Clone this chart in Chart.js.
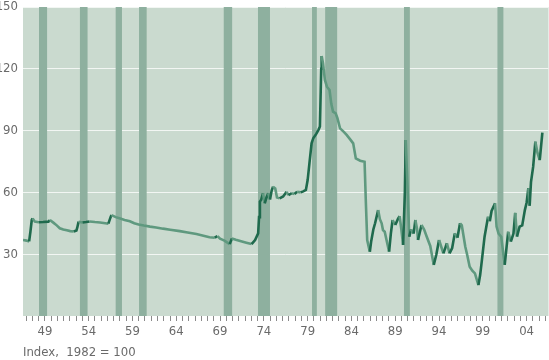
<!DOCTYPE html>
<html>
<head>
<meta charset="utf-8">
<script src="https://cdn.jsdelivr.net/npm/chart.js@4.4.1/dist/chart.umd.min.js"></script>
<style>
html,body{margin:0;padding:0;background:#fff;}
#wrap{position:relative;width:549px;height:360px;}
#note{position:absolute;left:23px;top:344px;font:13px "Liberation Sans Narrow","DejaVu Sans Condensed",sans-serif;color:#6a6a6a;white-space:pre;}
</style>
</head>
<body>
<div id="wrap">
<canvas id="c" width="549" height="360"></canvas>
<div id="note">Index,  1982 = 100</div>
</div>
<script>
// Decimal-year time stamps and index values
const times = [
1947.0,1947.4,1947.7,1947.85,1948.0,1948.1,1948.35,1948.8,1949.3,1949.9,
1950.07,1950.5,1950.85,1951.2,1951.6,1952.0,1952.4,1952.8,1953.1,1953.2,
1953.35,1953.8,1954.2,1954.6,1955.2,1955.8,1956.4,1956.75,1957.0,1957.1,
1957.6,1958.1,1958.6,1959.2,1959.7,1960.2,1960.8,1961.5,1962.2,1963.0,
1963.8,1964.9,1965.8,1966.8,1967.6,1968.3,1968.9,1969.2,1969.5,1970.0,
1970.6,1970.85,1971.3,1971.8,1972.5,1973.1,1973.5,1973.85,1973.95,1974.05,
1974.2,1974.4,1974.6,1974.8,1975.0,1975.2,1975.4,1975.55,1975.8,1976.0,
1976.3,1976.7,1977.1,1977.3,1977.7,1978.0,1978.3,1978.7,1979.0,1979.3,
1979.5,1979.7,1979.95,1980.14,1980.5,1980.75,1980.9,1981.05,1981.1,1981.25,
1981.47,1981.7,1982.0,1982.2,1982.4,1982.7,1982.9,1983.2,1983.6,1983.95,
1984.4,1984.7,1985.0,1985.5,1986.0,1986.15,1986.3,1986.5,1986.6,1986.75,
1987.0,1987.2,1987.55,1987.75,1987.95,1988.1,1988.3,1988.5,1988.8,1989.0,
1989.2,1989.5,1989.8,1990.0,1990.2,1990.4,1990.6,1990.7,1990.9,1991.1,
1991.3,1991.6,1991.8,1992.0,1992.1,1992.5,1992.8,1993.1,1993.5,1993.9,
1994.2,1994.5,1994.8,1995.0,1995.4,1995.7,1996.0,1996.3,1996.6,1996.9,
1997.1,1997.5,1997.7,1998.0,1998.3,1998.6,1999.0,1999.2,1999.4,1999.7,
2000.1,2000.3,2000.5,2000.9,2001.07,2001.3,2001.6,2002.0,2002.2,2002.4,
2002.7,2003.0,2003.2,2003.4,2003.7,2004.0,2004.3,2004.5,2004.7,2004.85,
2005.0,2005.25,2005.5,2005.75,2006.0,2006.3
];
const values = [
36.9,36.6,36.2,41,46.6,47.4,45.8,45.5,45.6,45.8,
46.6,45.2,44.0,42.6,42.0,41.6,41.2,41.0,41.5,43.0,
45.8,45.4,45.6,45.9,45.6,45.4,45.0,44.8,48.0,49.0,
48.0,47.3,46.6,46.0,45.0,44.4,43.9,43.4,43.0,42.4,
41.9,41.2,40.5,39.8,39.0,38.2,38.0,38.8,37.5,36.6,
34.9,37.6,37.0,36.4,35.6,34.9,36.9,40.1,48,55.5,
56.5,59.6,54.7,57.5,59.6,56.5,61,62.8,61.9,57.5,
57.1,58.0,60.3,58.7,59.6,59.2,60.3,60.0,60.5,61.2,
66,74,83.8,86.3,88.5,90.5,92,120,126.2,122.7,
114.6,111.3,109.7,103,99.2,98.4,96,91.1,89.5,87.9,
85.5,83.8,76.5,75.4,74.9,54.7,36.9,33,31.2,36.1,
42,45,51.4,47,45,41.7,40.9,37,31.2,40,
46.6,44.2,47,48.5,42,34.5,60,85.4,62.8,38.5,
42,40,46.6,42,36.9,44.2,42,38.5,34,24.8,
30,36.9,33,30.4,35.3,30.4,33,40.1,38,45,
44,33.6,30,23.9,22,20.7,15,20,27.2,38.5,
48.2,46,51,54.7,43.4,40,38.5,24.8,33,40.9,
36.1,40,50.1,38.5,43.4,44,51.4,55,62,53.5,
65,72.5,84.6,79,75.7,89
];
// Recession periods (shaded bands), decimal years
const bandStart = [1948.83,1953.5,1957.58,1960.25,1969.92,1973.83,1980.0,1981.5,1990.5,2001.17];
const bandEnd   = [1949.75,1954.37,1958.3,1961.12,1970.88,1975.2,1980.55,1982.87,1991.17,2001.85];
// Axis labels
const yTicks = [30,60,90,120,150];
const xLabelYears = [1949,1954,1959,1964,1969,1974,1979,1984,1989,1994,1999,2004];

const FONT = "'Liberation Sans Narrow','DejaVu Sans Condensed',sans-serif";
const DARK = '#1f6a4d', LIGHT = '#5f997f';

const bgPlugin = {
  id: 'bg',
  beforeDraw(chart) {
    const {ctx, chartArea: a} = chart;
    ctx.save();
    ctx.fillStyle = '#cadacf';
    ctx.fillRect(a.left, a.top, a.right - a.left, a.bottom - a.top);
    ctx.restore();
  },
  beforeDatasetsDraw(chart) {
    const {ctx, chartArea: a, scales: {x}} = chart;
    ctx.save();
    ctx.fillStyle = '#8eb09f';
    for (let i = 0; i < bandStart.length; i++) {
      const x0 = x.getPixelForValue(bandStart[i]);
      const x1 = x.getPixelForValue(bandEnd[i]);
      ctx.fillRect(x0, a.top, x1 - x0, a.bottom - a.top);
    }
    ctx.restore();
  }
};

const labelPos = xLabelYears.map(y => y + 0.5);
const xTickVals = [];
for (let k = -4; k < 90; k++) {
  const v = 1949.5 + k * 5 / 7;
  if (v >= 1947 && v <= 2007) xTickVals.push(+v.toFixed(4));
}

new Chart(document.getElementById('c'), {
  type: 'line',
  data: {
    datasets: [{
      data: times.map((t, i) => ({x: t, y: values[i]})),
      borderColor: LIGHT,
      borderWidth: 2.6,
      pointRadius: 0,
      tension: 0,
      segment: {
        borderColor: c => c.p1.parsed.y > c.p0.parsed.y ? DARK : LIGHT
      }
    }]
  },
  options: {
    responsive: false,
    animation: false,
    layout: {padding: {top: 7, right: 0.5, left: 0, bottom: 0}},
    plugins: {legend: {display: false}, tooltip: {enabled: false}},
    scales: {
      x: {
        type: 'linear',
        min: 1947, max: 2007,
        afterBuildTicks(s) {
          s.ticks = xTickVals.map(v => ({value: v}));
        },
        afterFit(s) { s.height = 44; s.paddingLeft = 0; s.paddingRight = 0; },
        ticks: {
          autoSkip: false,
          maxRotation: 0,
          padding: 4,
          color: '#6a6a6a',
          font: {family: FONT, size: 13, lineHeight: 1},
          callback(v) {
            for (const p of labelPos) {
              if (Math.abs(v - p) < 0.01) return String(Math.floor(p) % 100).padStart(2, '0');
            }
            return '';
          }
        },
        grid: {drawOnChartArea: false, drawTicks: true, tickLength: 5, color: '#8a8a8a', lineWidth: 1},
        border: {display: false}
      },
      y: {
        min: 0, max: 150,
        afterBuildTicks(s) {
          s.ticks = [0].concat(yTicks).map(v => ({value: v}));
        },
        afterFit(s) { s.width = 23; s.paddingTop = 0; s.paddingBottom = 0; },
        ticks: {
          padding: 5,
          color: '#6a6a6a',
          font: {family: FONT, size: 13, lineHeight: 1},
          callback: v => v === 0 ? '' : String(v)
        },
        grid: {
          drawTicks: false,
          color: c => c.tick && c.tick.value === 0 ? 'rgba(0,0,0,0)' : '#f2f6f3',
          lineWidth: 1
        },
        border: {display: false}
      }
    }
  },
  plugins: [bgPlugin]
});
</script>
</body>
</html>
